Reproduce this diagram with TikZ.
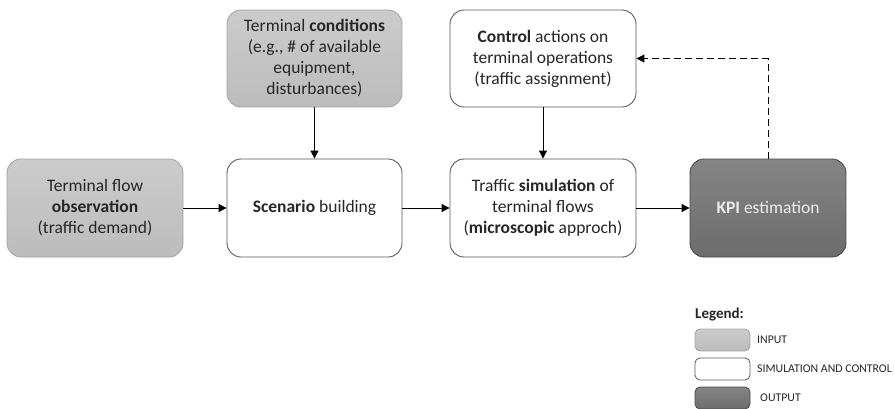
\documentclass[tikz,border=0pt]{standalone}
\usepackage{fontspec}
\setmainfont{Carlito}
\usetikzlibrary{arrows.meta,shadings}
\definecolor{inA}{HTML}{CBCBCB}
\definecolor{inB}{HTML}{BCBCBC}
\definecolor{inBorder}{HTML}{A5A5A5}
\definecolor{outA}{HTML}{858585}
\definecolor{outB}{HTML}{6C6C6C}
\definecolor{outBorder}{HTML}{4A4A4A}
\definecolor{simBorder}{HTML}{5A5A5A}
\definecolor{txt}{HTML}{262626}
\definecolor{kpitxt}{HTML}{EDEDED}
\begin{document}
\begin{tikzpicture}[x=1pt,y=-1pt,
  base/.style={rounded corners=14pt, line width=0.9pt, align=center, inner sep=2pt,
    font=\fontsize{17.5}{21}\selectfont, text=txt},
  inbox/.style={base, draw=inBorder, top color=inA, bottom color=inB},
  simbox/.style={base, draw=simBorder, fill=white},
  outbox/.style={base, draw=outBorder, top color=outA, bottom color=outB, text=kpitxt},
  arr/.style={line width=1pt, -{Triangle[length=8pt,width=8pt]}},
  leg/.style={rounded corners=5pt, line width=0.8pt, minimum width=55pt, minimum height=22pt, inner sep=0pt},
  legtxt/.style={anchor=west, font=\fontsize{11.8}{13}\selectfont, text=txt, inner sep=0pt}
]
\useasboundingbox (0,0) rectangle (895,408);
\fill[white] (0,0) rectangle (895,408);
\node[inbox, minimum width=176pt, minimum height=98pt] (flow) at (95,208)
  {Terminal flow\\\textbf{observation}\\(traffic demand)};
\node[inbox, minimum width=175pt, minimum height=97pt] (cond) at (314.5,58.5)
  {Terminal \textbf{conditions}\\(e.g., \# of available\\equipment,\\disturbances)};
\node[simbox, minimum width=175pt, minimum height=98pt] (scen) at (314.5,208)
  {\textbf{Scenario} building};
\node[simbox, minimum width=186pt, minimum height=97pt] (ctrl) at (543,58.5)
  {\textbf{Control} actions on\\terminal operations\\(traffic assignment)};
\node[simbox, minimum width=186pt, minimum height=98pt] (sim) at (543,208)
  {Traffic \textbf{simulation} of\\terminal flows\\(\textbf{microscopic} approch)};
\node[outbox, minimum width=156pt, minimum height=98pt] (kpi) at (768,208)
  {\textbf{KPI} estimation};
\draw[arr] (flow) -- (scen);
\draw[arr] (cond) -- (scen);
\draw[arr] (scen) -- (sim);
\draw[arr] (ctrl) -- (sim);
\draw[arr] (sim) -- (kpi);
\draw[arr, dashed, dash pattern=on 7pt off 4pt] (kpi.north) |- (ctrl.east);
% legend
\node[anchor=west, font=\fontsize{15}{17}\selectfont\bfseries, text=txt, inner sep=0pt] (legt) at (695,315) {Legend:};
\node[leg, draw=inBorder, top color=inA, bottom color=inB] (l1) at (722.5,340) {};
\node[leg, draw=simBorder, fill=white] (l2) at (722.5,369) {};
\node[leg, draw=outBorder, top color=outA, bottom color=outB] (l3) at (722.5,398) {};
\node[legtxt] (t1) at (757,340) {INPUT};
\node[legtxt] (t2) at (757,369) {SIMULATION AND CONTROL};
\node[legtxt] (t3) at (760,398) {OUTPUT};
\end{tikzpicture}
\end{document}
